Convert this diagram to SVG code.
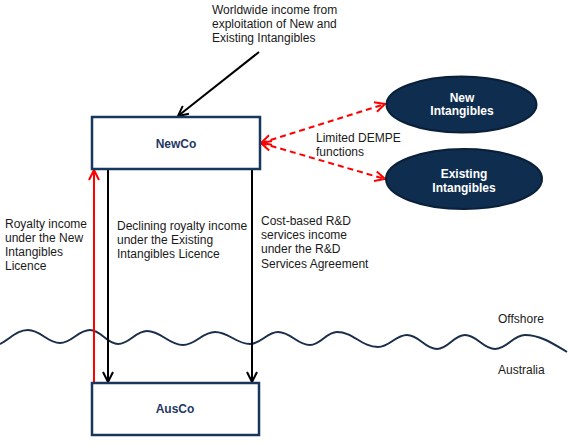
<svg xmlns="http://www.w3.org/2000/svg" width="568" height="444" viewBox="0 0 568 444">
  <style>
    .lbl { font-family: "Liberation Sans", Arial, sans-serif; font-size: 12px; fill: #1a1a1a; }
    .box { fill: #ffffff; stroke: #17375e; stroke-width: 2.5; }
    .boxtxt { font-family: "Liberation Sans", Arial, sans-serif; font-size: 12px; font-weight: bold; fill: #1f3864; text-anchor: middle; }
    .ell { fill: #0f2d4f; stroke: #0a1f38; stroke-width: 2; }
    .elltxt { font-family: "Liberation Sans", Arial, sans-serif; font-size: 12px; font-weight: bold; fill: #ffffff; text-anchor: middle; }
    .blk { stroke: #000000; stroke-width: 2; fill: none; }
    .red { stroke: #ff0000; stroke-width: 2; fill: none; }
    .reddash { stroke: #ff0000; stroke-width: 2; fill: none; stroke-dasharray: 6 4; }
    .wave { stroke: #1a2e4a; stroke-width: 2; fill: none; }
  </style>
  <defs>
    <marker id="arrBlk" viewBox="0 0 12 12" refX="11" refY="6" markerWidth="12" markerHeight="12" markerUnits="userSpaceOnUse" orient="auto-start-reverse">
      <path d="M1,1 L11,6 L1,11" fill="none" stroke="#000000" stroke-width="2"/>
    </marker>
    <marker id="arrRed" viewBox="0 0 12 12" refX="11" refY="6" markerWidth="12" markerHeight="12" markerUnits="userSpaceOnUse" orient="auto-start-reverse">
      <path d="M1,1 L11,6 L1,11" fill="none" stroke="#ff0000" stroke-width="2"/>
    </marker>
  </defs>

  <g id="boundary">
    <path class="wave" d="M0,344 C10,339 17,330 28,330 C40.8,330 47.2,343 60,343 C72,343 78,330 90,330 C101.2,330 106.8,344 118,344 C129.6,344 135.4,331 147,331 C161.4,331 168.6,345 183,345 C195.8,345 202.2,332 215,332 C229,332 236,344 250,344 C261.2,344 266.8,332 278,332 C290.8,332 297.2,345 310,345 C320.8,345 326.2,332 337,332 C353.4,332 361.6,347 378,347 C389.6,347 395.4,335 407,335 C419,335 425,349 437,349 C448.2,349 453.8,335 465,335 C477,335 483,349 495,349 C507,349 513,335 525,335 C541,335 555,345 567,352"/>
    <text class="lbl" x="498" y="323">Offshore</text>
    <text class="lbl" x="498" y="374">Australia</text>
  </g>

  <g id="connectors">
    <line class="blk" x1="259" y1="52" x2="178" y2="116" marker-end="url(#arrBlk)"/>
    <line class="reddash" x1="261" y1="143" x2="385" y2="104" marker-start="url(#arrRed)" marker-end="url(#arrRed)"/>
    <line class="reddash" x1="261" y1="143" x2="385" y2="179" marker-start="url(#arrRed)" marker-end="url(#arrRed)"/>
    <line class="red" x1="94" y1="383" x2="94" y2="170" marker-end="url(#arrRed)"/>
    <line class="blk" x1="108" y1="169" x2="108" y2="382" marker-end="url(#arrBlk)"/>
    <line class="blk" x1="252" y1="169" x2="252" y2="382" marker-end="url(#arrBlk)"/>
  </g>

  <g id="top-label">
    <text class="lbl" x="212" y="14">Worldwide income from</text>
    <text class="lbl" x="212" y="28">exploitation of New and</text>
    <text class="lbl" x="212" y="42">Existing Intangibles</text>
  </g>

  <g id="dempe-label">
    <text class="lbl" x="316" y="142">Limited DEMPE</text>
    <text class="lbl" x="316" y="156">functions</text>
  </g>

  <g id="royalty-label">
    <text class="lbl" x="5" y="228">Royalty income</text>
    <text class="lbl" x="5" y="242">under the New</text>
    <text class="lbl" x="5" y="256">Intangibles</text>
    <text class="lbl" x="5" y="270">Licence</text>
  </g>

  <g id="declining-label">
    <text class="lbl" x="117" y="230">Declining royalty income</text>
    <text class="lbl" x="117" y="244">under the Existing</text>
    <text class="lbl" x="117" y="258">Intangibles Licence</text>
  </g>

  <g id="services-label">
    <text class="lbl" x="261" y="225">Cost-based R&amp;D</text>
    <text class="lbl" x="261" y="239">services income</text>
    <text class="lbl" x="261" y="253">under the R&amp;D</text>
    <text class="lbl" x="261" y="268">Services Agreement</text>
  </g>

  <g id="newco">
    <rect class="box" x="92" y="117" width="168" height="52"/>
    <text class="boxtxt" x="176" y="148">NewCo</text>
  </g>

  <g id="ausco">
    <rect class="box" x="92" y="383" width="167" height="52"/>
    <text class="boxtxt" x="175" y="413">AusCo</text>
  </g>

  <g id="new-intangibles">
    <ellipse class="ell" cx="461.5" cy="104.5" rx="75" ry="28"/>
    <text class="elltxt" x="462" y="102">New</text>
    <text class="elltxt" x="462" y="115">Intangibles</text>
  </g>

  <g id="existing-intangibles">
    <ellipse class="ell" cx="464" cy="179" rx="78" ry="30"/>
    <text class="elltxt" x="464" y="178">Existing</text>
    <text class="elltxt" x="464" y="192">Intangibles</text>
  </g>
</svg>
